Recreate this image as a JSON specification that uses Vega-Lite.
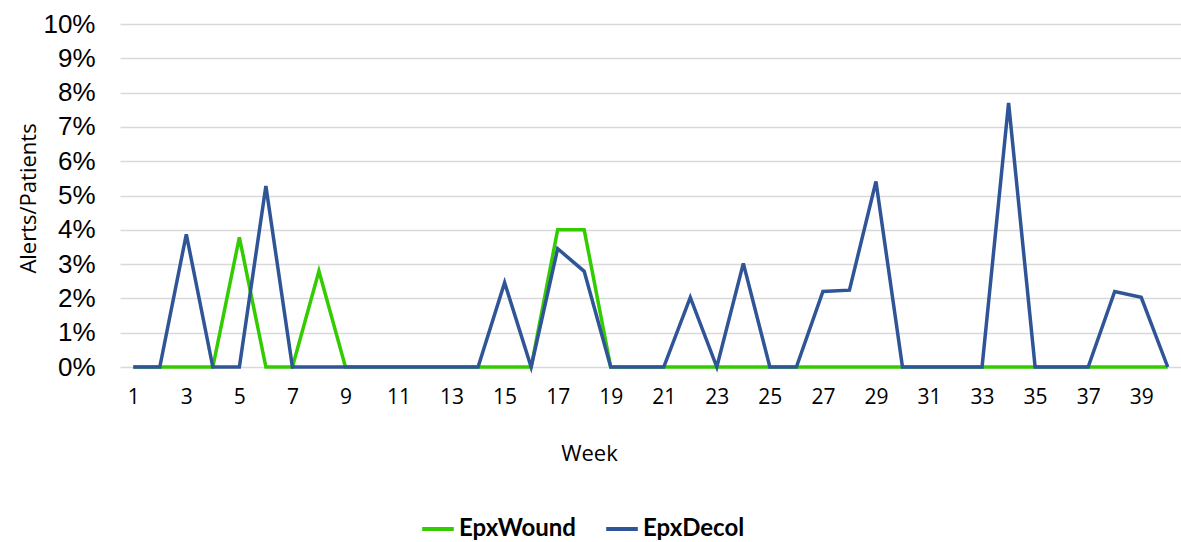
{
  "$schema": "https://vega.github.io/schema/vega-lite/v6.json",
  "autosize": {"type": "none"},
  "width": 1061,
  "height": 343,
  "padding": {"left": 120, "top": 24, "right": 0, "bottom": 175},
  "background": "white",
  "config": {"view": {"stroke": null}, "font": "Open Sans"},
  "data": {
    "values": [
      {"week": 1, "series": "EpxWound", "value": 0},
      {"week": 2, "series": "EpxWound", "value": 0},
      {"week": 3, "series": "EpxWound", "value": 0},
      {"week": 4, "series": "EpxWound", "value": 0},
      {"week": 5, "series": "EpxWound", "value": 0.0378},
      {"week": 6, "series": "EpxWound", "value": 0},
      {"week": 7, "series": "EpxWound", "value": 0},
      {"week": 8, "series": "EpxWound", "value": 0.028},
      {"week": 9, "series": "EpxWound", "value": 0},
      {"week": 10, "series": "EpxWound", "value": 0},
      {"week": 11, "series": "EpxWound", "value": 0},
      {"week": 12, "series": "EpxWound", "value": 0},
      {"week": 13, "series": "EpxWound", "value": 0},
      {"week": 14, "series": "EpxWound", "value": 0},
      {"week": 15, "series": "EpxWound", "value": 0},
      {"week": 16, "series": "EpxWound", "value": 0},
      {"week": 17, "series": "EpxWound", "value": 0.04},
      {"week": 18, "series": "EpxWound", "value": 0.04},
      {"week": 19, "series": "EpxWound", "value": 0},
      {"week": 20, "series": "EpxWound", "value": 0},
      {"week": 21, "series": "EpxWound", "value": 0},
      {"week": 22, "series": "EpxWound", "value": 0},
      {"week": 23, "series": "EpxWound", "value": 0},
      {"week": 24, "series": "EpxWound", "value": 0},
      {"week": 25, "series": "EpxWound", "value": 0},
      {"week": 26, "series": "EpxWound", "value": 0},
      {"week": 27, "series": "EpxWound", "value": 0},
      {"week": 28, "series": "EpxWound", "value": 0},
      {"week": 29, "series": "EpxWound", "value": 0},
      {"week": 30, "series": "EpxWound", "value": 0},
      {"week": 31, "series": "EpxWound", "value": 0},
      {"week": 32, "series": "EpxWound", "value": 0},
      {"week": 33, "series": "EpxWound", "value": 0},
      {"week": 34, "series": "EpxWound", "value": 0},
      {"week": 35, "series": "EpxWound", "value": 0},
      {"week": 36, "series": "EpxWound", "value": 0},
      {"week": 37, "series": "EpxWound", "value": 0},
      {"week": 38, "series": "EpxWound", "value": 0},
      {"week": 39, "series": "EpxWound", "value": 0},
      {"week": 40, "series": "EpxWound", "value": 0},
      {"week": 1, "series": "EpxDecol", "value": 0},
      {"week": 2, "series": "EpxDecol", "value": 0},
      {"week": 3, "series": "EpxDecol", "value": 0.0387},
      {"week": 4, "series": "EpxDecol", "value": 0},
      {"week": 5, "series": "EpxDecol", "value": 0},
      {"week": 6, "series": "EpxDecol", "value": 0.0528},
      {"week": 7, "series": "EpxDecol", "value": 0},
      {"week": 8, "series": "EpxDecol", "value": 0},
      {"week": 9, "series": "EpxDecol", "value": 0},
      {"week": 10, "series": "EpxDecol", "value": 0},
      {"week": 11, "series": "EpxDecol", "value": 0},
      {"week": 12, "series": "EpxDecol", "value": 0},
      {"week": 13, "series": "EpxDecol", "value": 0},
      {"week": 14, "series": "EpxDecol", "value": 0},
      {"week": 15, "series": "EpxDecol", "value": 0.0246},
      {"week": 16, "series": "EpxDecol", "value": 0},
      {"week": 17, "series": "EpxDecol", "value": 0.0345},
      {"week": 18, "series": "EpxDecol", "value": 0.0279},
      {"week": 19, "series": "EpxDecol", "value": 0},
      {"week": 20, "series": "EpxDecol", "value": 0},
      {"week": 21, "series": "EpxDecol", "value": 0},
      {"week": 22, "series": "EpxDecol", "value": 0.0203},
      {"week": 23, "series": "EpxDecol", "value": 0},
      {"week": 24, "series": "EpxDecol", "value": 0.0302},
      {"week": 25, "series": "EpxDecol", "value": 0},
      {"week": 26, "series": "EpxDecol", "value": 0},
      {"week": 27, "series": "EpxDecol", "value": 0.022},
      {"week": 28, "series": "EpxDecol", "value": 0.0224},
      {"week": 29, "series": "EpxDecol", "value": 0.0541},
      {"week": 30, "series": "EpxDecol", "value": 0},
      {"week": 31, "series": "EpxDecol", "value": 0},
      {"week": 32, "series": "EpxDecol", "value": 0},
      {"week": 33, "series": "EpxDecol", "value": 0},
      {"week": 34, "series": "EpxDecol", "value": 0.077},
      {"week": 35, "series": "EpxDecol", "value": 0},
      {"week": 36, "series": "EpxDecol", "value": 0},
      {"week": 37, "series": "EpxDecol", "value": 0},
      {"week": 38, "series": "EpxDecol", "value": 0.022},
      {"week": 39, "series": "EpxDecol", "value": 0.0203},
      {"week": 40, "series": "EpxDecol", "value": 0}
    ]
  },
  "mark": {"type": "line", "strokeWidth": 3.5, "strokeJoin": "miter", "clip": false},
  "encoding": {
    "x": {
      "field": "week",
      "type": "quantitative",
      "scale": {"domain": [0.5, 40.5], "nice": false, "zero": false},
      "axis": {
        "values": [1,3,5,7,9,11,13,15,17,19,21,23,25,27,29,31,33,35,37,39],
        "grid": false,
        "domain": false,
        "ticks": false,
        "labelFontSize": 21,
        "labelColor": "#000000",
        "labelPadding": 19,
        "labelFont": "Open Sans",
        "title": "Week",
        "titleFontSize": 22,
        "titleFontWeight": "normal",
        "titleColor": "#000000",
        "titleX": 469,
        "titleY": 86,
        "titleBaseline": "middle",
        "titleAlign": "center"
      }
    },
    "y": {
      "field": "value",
      "type": "quantitative",
      "scale": {"domain": [0, 0.1], "nice": false},
      "axis": {
        "values": [0,0.01,0.02,0.03,0.04,0.05,0.06,0.07,0.08,0.09,0.1],
        "format": ".0%",
        "grid": true,
        "gridColor": "#d9d9d9",
        "gridWidth": 1.5,
        "domain": false,
        "ticks": false,
        "labelFontSize": 26,
        "labelColor": "#000000",
        "labelPadding": 25,
        "labelFont": "Liberation Sans",
        "title": "Alerts/Patients",
        "titleFontSize": 22,
        "titleFontWeight": "normal",
        "titleColor": "#000000",
        "titleAngle": -90,
        "titleX": -92,
        "titleY": 174,
        "titleAlign": "center",
        "titleBaseline": "middle"
      }
    },
    "color": {
      "field": "series",
      "type": "nominal",
      "scale": {"domain": ["EpxWound", "EpxDecol"], "range": ["#33cc00", "#2f5597"]},
      "legend": {
        "title": null,
        "orient": "none",
        "direction": "horizontal",
        "legendX": 300,
        "legendY": 487,
        "symbolType": "stroke",
        "symbolStrokeWidth": 4,
        "symbolSize": 1000,
        "labelFontSize": 24,
        "labelFontWeight": "bold",
        "labelColor": "#000000",
        "labelFont": "Lato",
        "columnPadding": 22,
        "labelOffset": 3
      }
    }
  }
}
